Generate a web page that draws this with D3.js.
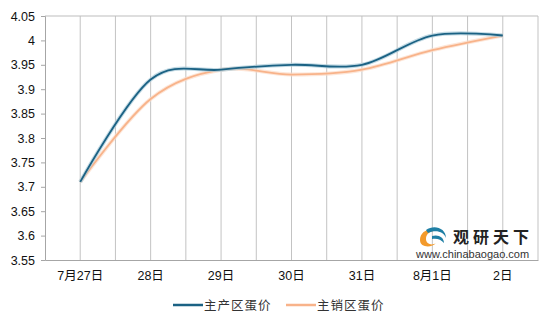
<!DOCTYPE html>
<html>
<head>
<meta charset="utf-8">
<script src="https://cdn.jsdelivr.net/npm/d3@7"></script>
<style>
  body { margin: 0; background: #fff; }
  text { font-family: "Liberation Sans", Arial, "Noto Sans CJK SC", sans-serif; }
</style>
</head>
<body>
<div id="chart"></div>
<script>
// categories and series
const days = ["7月27日", "28日", "29日", "30日", "31日", "8月1日", "2日"];
const producing = [3.71, 3.92, 3.94, 3.95, 3.95, 4.01, 4.01];   // 主产区蛋价
const selling = [3.71, 3.88, 3.94, 3.93, 3.94, 3.98, 4.01];     // 主销区蛋价
const yTicks = [3.55, 3.6, 3.65, 3.7, 3.75, 3.8, 3.85, 3.9, 3.95, 4, 4.05];

const width = 548, height = 323;
const margin = {top: 16, right: 10, bottom: 63, left: 45};

const svg = d3.select("#chart").append("svg")
  .attr("width", width)
  .attr("height", height);

const x = d3.scaleBand()
  .domain(days)
  .range([margin.left, width - margin.right]);

const y = d3.scaleLinear()
  .domain([3.55, 4.05])
  .range([height - margin.bottom, margin.top]);

const cx = d => x(d) + x.bandwidth() / 2;

// vertical gridlines: band edges and band centres
const gridX = [];
days.forEach(d => { gridX.push(x(d)); gridX.push(cx(d)); });
gridX.push(x.range()[1]);

svg.append("g")
  .selectAll("line")
  .data(gridX.slice(1))
  .join("line")
  .attr("x1", d => d).attr("x2", d => d)
  .attr("y1", y(4.05)).attr("y2", y(3.55))
  .attr("stroke", "#c3c3c3")
  .attr("stroke-width", 1);

// top border
svg.append("line")
  .attr("x1", margin.left).attr("x2", x.range()[1])
  .attr("y1", y(4.05)).attr("y2", y(4.05))
  .attr("stroke", "#bdbdbd");

// y axis
const yAxis = svg.append("g")
  .attr("transform", `translate(${margin.left},0)`)
  .call(d3.axisLeft(y).tickValues(yTicks).tickSize(4).tickPadding(6).tickFormat(d => d3.format("")(+d.toFixed(2))));
yAxis.select(".domain").attr("stroke", "#a6a6a6");
yAxis.selectAll(".tick line").attr("stroke", "#a6a6a6");
yAxis.selectAll("text").attr("font-size", 12.5).attr("fill", "#111");

// x axis
const xAxis = svg.append("g")
  .attr("transform", `translate(0,${y(3.55)})`)
  .call(d3.axisBottom(x).tickSize(0).tickPadding(11));
xAxis.select(".domain").attr("stroke", "#a6a6a6");
xAxis.selectAll("text").attr("font-size", 12.5).attr("fill", "#111");

// lines
const line = d3.line()
  .x((d, i) => cx(days[i]))
  .y(d => y(d))
  .curve(d3.curveCardinal.tension(0));

const series = [
  {name: "主产区蛋价", values: producing, color: "#1b6284", glow: "#a9cad8"},
  {name: "主销区蛋价", values: selling, color: "#f8b38a", glow: "#fcdcc8"}
];

// draw selling first, producing on top
[series[1], series[0]].forEach(s => {
  svg.append("path")
    .datum(s.values)
    .attr("d", line)
    .attr("fill", "none")
    .attr("stroke", s.glow)
    .attr("stroke-width", 4)
    .attr("stroke-opacity", 0.7);
  svg.append("path")
    .datum(s.values)
    .attr("d", line)
    .attr("fill", "none")
    .attr("stroke", s.color)
    .attr("stroke-width", 1.8);
});

// legend
const legend = svg.append("g")
  .attr("transform", "translate(173,305)");
const items = legend.selectAll("g")
  .data(series)
  .join("g")
  .attr("transform", (d, i) => `translate(${i * 113},0)`);
items.append("line")
  .attr("x1", 0).attr("x2", 30)
  .attr("stroke", d => d.color)
  .attr("stroke-width", 2.5);
items.append("text")
  .attr("x", 31)
  .attr("y", 4.5)
  .attr("font-size", 12.5)
  .attr("fill", "#333")
  .style("letter-spacing", "1px")
  .text(d => d.name);

// watermark
const wm = svg.append("g").attr("transform", "translate(418,226)");
wm.append("path")
  .attr("d", "M2,14 C2,4 14,0 24,6 C16,3 8,6 8,13 C8,18 14,20 18,17 C14,22 2,22 2,14 Z")
  .attr("fill", "#f39a2b");
wm.append("path")
  .attr("d", "M8,4 C16,-2 28,2 28,12 C26,6 18,3 10,7 Z")
  .attr("fill", "#1f7fa5");
wm.append("path")
  .attr("d", "M14,10 C20,8 26,11 26,17 C23,13 18,12 14,13 Z")
  .attr("fill", "#1f7fa5");
wm.append("text")
  .attr("x", 35).attr("y", 17)
  .attr("font-size", 16)
  .attr("font-weight", "bold")
  .attr("fill", "#222")
  .style("font-family", "'Noto Sans CJK SC', sans-serif")
  .style("letter-spacing", "4px")
  .text("观研天下");
wm.append("text")
  .attr("x", -2).attr("y", 32)
  .attr("font-size", 11)
  .attr("fill", "#333")
  .text("www.chinabaogao.com");
</script>
</body>
</html>
